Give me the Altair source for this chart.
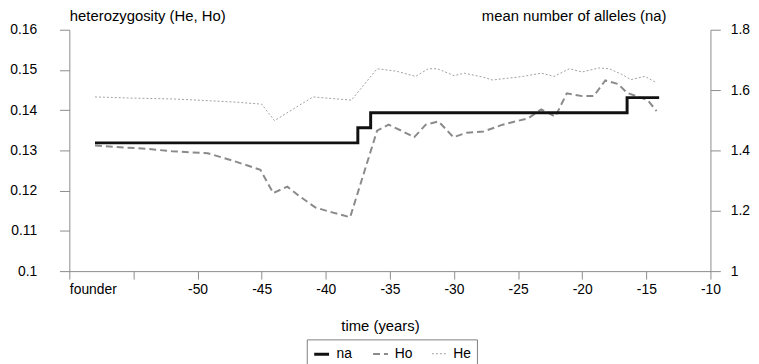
import altair as alt
import pandas as pd

# ---- data ----
he_years = [-58, -55, -52, -50, -47, -45, -44, -41, -38, -36, -34.5, -33, -32, -31.3,
            -30, -29.2, -27.7, -27, -24.6, -23.2, -22.2, -21, -20, -18.7, -17.9,
            -16.9, -16.2, -15.1, -14.2]
he_vals = [0.1433, 0.1430, 0.1428, 0.1425, 0.1420, 0.1415, 0.1374, 0.1433, 0.1425,
           0.1503, 0.1497, 0.1484, 0.1503, 0.1503, 0.1486, 0.1492, 0.1482, 0.1475,
           0.1484, 0.1492, 0.1484, 0.1503, 0.1495, 0.1505, 0.1503, 0.1489, 0.1476,
           0.1484, 0.1468]

ho_years = [-58, -56, -54, -52, -50.5, -49.2, -47.5, -45.1, -44.1, -43, -42, -40.8,
            -39.5, -38.1, -36, -35.1, -34.1, -33.1, -32.2, -31.2, -30.05, -29, -27.7,
            -26.2, -24.2, -23.2, -22.1, -21.2, -20, -19.1, -18.2, -17.2, -16.5,
            -14.9, -14.2]
ho_vals = [0.1312, 0.1308, 0.1304, 0.1298, 0.1295, 0.1293, 0.1277, 0.1252, 0.1194,
           0.1210, 0.1185, 0.1158, 0.1146, 0.1134, 0.1349, 0.1364, 0.1349, 0.1333,
           0.1364, 0.1372, 0.1333, 0.1344, 0.1347, 0.1364, 0.1380, 0.1402, 0.1384,
           0.1442, 0.1435, 0.1435, 0.1474, 0.1465, 0.1443, 0.1425, 0.1398]

na_years = [-58, -37.5, -36.5, -16.5, -14]
na_vals = [1.425, 1.475, 1.525, 1.575, 1.575]

series_names = ["na", "Ho", "He"]
x_ticks = [-60, -55, -50, -45, -40, -35, -30, -25, -20, -15, -10]
left_ticks = [0.10, 0.11, 0.12, 0.13, 0.14, 0.15, 0.16]
right_ticks = [1.0, 1.2, 1.4, 1.6, 1.8]

df_het = pd.concat([
    pd.DataFrame({"year": ho_years, "value": ho_vals, "series": "Ho"}),
    pd.DataFrame({"year": he_years, "value": he_vals, "series": "He"}),
])
df_na = pd.DataFrame({"year": na_years, "na": na_vals, "series": "na"})

FONT = "Liberation Sans"
AXC = "#8c8c8c"

legend = alt.Legend(
    title="", orient="none", legendX=240, legendY=313, direction="horizontal",
    strokeColor="#808080", padding=6, symbolType="stroke", symbolSize=225,
    labelFont=FONT, labelFontSize=14, labelColor="#000", labelOffset=6,
    columnPadding=17,
)

color = alt.Color("series:N", scale=alt.Scale(domain=series_names,
                  range=["#111111", "#8a8a8a", "#a0a0a0"]), legend=legend)
dash = alt.StrokeDash("series:N", scale=alt.Scale(domain=series_names,
                      range=[[1, 0], [7, 4], [2, 2]]), legend=legend)
swidth = alt.StrokeWidth("series:N", scale=alt.Scale(domain=series_names,
                         range=[3, 1, 1]), legend=legend)

x = alt.X(
    "year:Q",
    scale=alt.Scale(domain=[-60, -10], nice=False, zero=False),
    axis=alt.Axis(
        values=x_ticks, title="time (years)", titleX=314, titleY=55,
        titleBaseline="middle", titleAlign="center",
        labelExpr="datum.value == -60 ? 'founder' : (datum.value == -55 ? '' : '' + datum.value)",
        labelAlign={"condition": {"test": "datum.value == -60", "value": "left"}, "value": "center"},
        labelFlush=False, labelOverlap=False, tickSize=8, labelPadding=4,
        grid=False,
    ),
)

het = alt.Chart(df_het).mark_line().encode(
    x=x,
    y=alt.Y("value:Q", scale=alt.Scale(domain=[0.1, 0.16], nice=False, zero=False),
            axis=alt.Axis(orient="left", values=left_ticks, format=".2~f",
                          title="heterozygosity (He, Ho)", titleAngle=0, titleX=0,
                          titleY=-14, titleAlign="left", titleBaseline="middle",
                          tickSize=10, labelPadding=23, grid=False)),
    color=color, strokeDash=dash, strokeWidth=swidth,
)

na = alt.Chart(df_na).mark_line(interpolate="step-after").encode(
    x=x,
    y=alt.Y("na:Q", scale=alt.Scale(domain=[1, 1.8], nice=False, zero=False),
            axis=alt.Axis(orient="right", values=right_ticks, format=".1~f",
                          title="mean number of alleles (na)", titleAngle=0, titleX=-45,
                          titleY=-14, titleAlign="right", titleBaseline="middle",
                          tickSize=10, labelPadding=10, grid=False)),
    color=color, strokeDash=dash, strokeWidth=swidth,
)

chart = alt.layer(het, na).resolve_scale(y="independent").properties(
    width=648, height=244,
    autosize=alt.AutoSizeParams(type="none"),
    padding={"left": 62, "top": 20, "right": 41, "bottom": 100},
).configure_view(stroke=None).configure_axis(
    labelFont=FONT, labelFontSize=14, labelColor="#000",
    titleFont=FONT, titleFontSize=15, titleFontWeight="normal", titleColor="#000",
    domainColor=AXC, tickColor=AXC, domainWidth=1, tickWidth=1,
)

chart.save("out.html", embed_options={"renderer": "svg", "actions": False})
